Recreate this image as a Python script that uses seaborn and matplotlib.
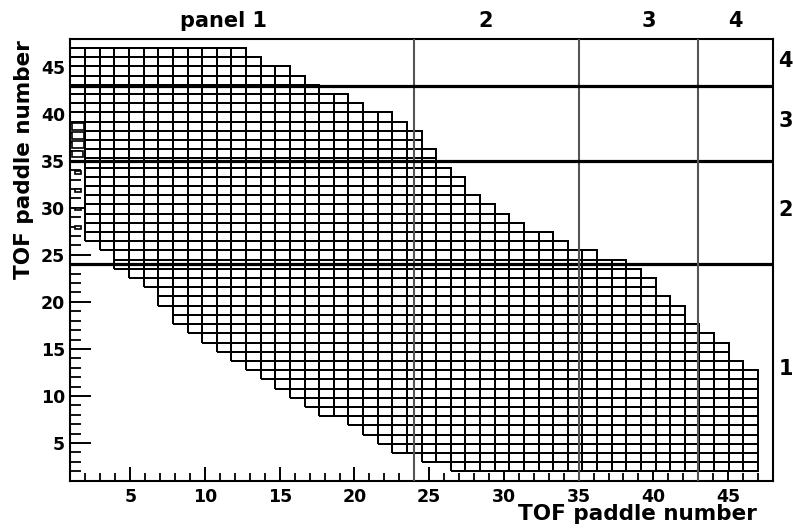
import numpy as np
import pandas as pd
import matplotlib
matplotlib.use("Agg")
import matplotlib.pyplot as plt
import seaborn as sns
from matplotlib.colors import ListedColormap
from matplotlib.patches import Rectangle
from matplotlib.ticker import MultipleLocator

# TOF paddle coincidence matrix: for each paddle on the x axis,
# the lowest and highest paddle on the y axis that form a valid pair
paddle = list(range(1, 48))
y_low = [40, 27, 26, 24, 23, 22, 20, 18, 17, 16, 15, 14, 13, 12, 11, 10,
         9, 8, 8, 7, 6, 5, 4, 4, 3, 3] + [2] * 21
y_high = [47] * 12 + [46, 45, 45, 44, 43, 42, 42, 41, 40, 40, 39, 38, 36,
                      34, 33, 31, 30, 29, 28, 27, 27, 26, 25, 25, 24, 24,
                      23, 22, 20, 19, 17, 16, 15, 13, 12]

# sparsely filled cells of paddle 1 (relative box size)
weak_y = [39, 38, 37, 36, 34, 32, 30, 28]
weak_size = [0.75, 0.7, 0.7, 0.65, 0.35, 0.3, 0.3, 0.3]

# panel boundaries (paddle numbers)
panel_edges = [24, 35, 43]
top_labels = ["panel 1", "2", "3", "4"]
top_label_x = [11.25, 28.8, 39.7, 45.5]
side_labels = ["1", "2", "3", "4"]
side_label_y = [12.9, 29.8, 39.2, 45.6]

n_bins = 47
hist_range = (1, 47)

cells = pd.DataFrame(
    [(p, q) for p, lo, hi in zip(paddle, y_low, y_high) for q in range(lo, hi + 1)],
    columns=["x", "y"],
)

sns.set_theme(style="white")
plt.rcParams["font.family"] = ["DejaVu Sans"]
for key in ("text.color", "axes.labelcolor", "xtick.color", "ytick.color"):
    plt.rcParams[key] = "black"

fig = plt.figure(figsize=(7.93, 5.29), dpi=100)
ax = fig.add_axes([0.0889, 0.0915, 0.8858, 0.8357])

sns.histplot(
    data=cells, x="x", y="y",
    bins=n_bins, binrange=(hist_range, hist_range),
    cmap=ListedColormap(["white"]),
    edgecolor="black", linewidth=1.4,
    ax=ax,
)

# outline only the occupied cells; empty (masked) cells stay invisible
mesh = ax.collections[-1]
empty = np.ma.getmaskarray(mesh.get_array()).ravel()
edge_rgba = np.zeros((empty.size, 4))
edge_rgba[~empty] = (0, 0, 0, 1)
mesh.set_edgecolor(edge_rgba)

# partially occupied cells of the first column, drawn as shrunken boxes
bw = (hist_range[1] - hist_range[0]) / n_bins
cx = hist_range[0] + 0.5 * bw
for q, s in zip(weak_y, weak_size):
    cy = hist_range[0] + (q - 0.5) * bw
    w = bw * min(1.0, s + 0.1)
    h = bw * s
    ax.add_patch(Rectangle((cx - w / 2, cy - h / 2), w, h,
                           facecolor="white", edgecolor="black", lw=1.2))

for e in panel_edges:
    ax.axvline(e, color="#555555", lw=1.5, zorder=5)
    ax.axhline(e, color="black", lw=2.3, zorder=5)

ax.set_xlim(1, 48)
ax.set_ylim(1, 48)

ax.xaxis.set_major_locator(MultipleLocator(5))
ax.xaxis.set_minor_locator(MultipleLocator(1))
ax.yaxis.set_major_locator(MultipleLocator(5))
ax.yaxis.set_minor_locator(MultipleLocator(1))
ax.tick_params(axis="both", which="both", direction="in", color="black",
               bottom=True, left=True, top=False, right=False)
ax.tick_params(axis="x", which="major", length=10, width=1.4, pad=5,
               labelsize=12.5)
ax.tick_params(axis="x", which="minor", length=5.5, width=1.3)
ax.tick_params(axis="y", which="major", length=15, width=1.4, pad=4,
               labelsize=12.5)
ax.tick_params(axis="y", which="minor", length=8, width=1.3)
for lab in ax.get_xticklabels() + ax.get_yticklabels():
    lab.set_fontweight("bold")

for sp in ax.spines.values():
    sp.set_color("black")
    sp.set_linewidth(1.5)

ax.set_xlabel("TOF paddle number", fontsize=15.5, fontweight="bold", loc="right")
ax.xaxis.set_label_coords(0.977, -0.053)
ax.set_ylabel("TOF paddle number", fontsize=15.5, fontweight="bold", loc="top")
ax.yaxis.set_label_coords(-0.052, 0.997)

for lab, xv in zip(top_labels, top_label_x):
    ax.text(xv, 49.9, lab, ha="center", va="center", fontsize=15,
            fontweight="bold", clip_on=False)
for lab, yv in zip(side_labels, side_label_y):
    ax.text(48.85, yv, lab, ha="center", va="center", fontsize=15,
            fontweight="bold", clip_on=False)

fig.savefig("out.png", dpi=100, facecolor="white")
